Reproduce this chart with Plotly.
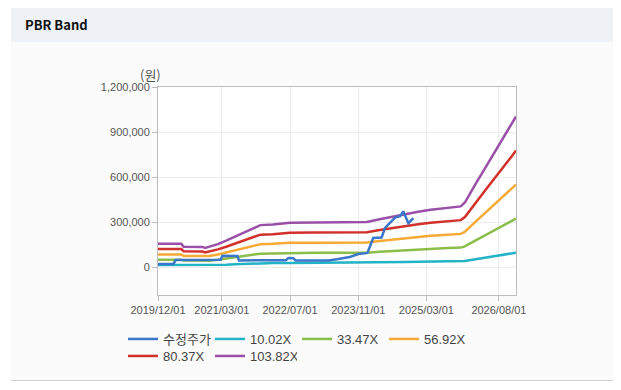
import plotly.graph_objects as go

# ---------------- data ----------------
band_dates = [
    "2019-12-01", "2020-05-15", "2020-06-01", "2020-10-15", "2020-11-01",
    "2020-12-01", "2021-02-01", "2021-04-01", "2021-06-01", "2021-08-01",
    "2021-10-01", "2021-12-01", "2022-03-01", "2022-07-01", "2023-01-01",
    "2023-07-01", "2024-01-01", "2024-04-01", "2024-07-01", "2024-10-01",
    "2025-01-01", "2025-04-01", "2025-07-01", "2025-11-01", "2025-12-01",
    "2026-01-01", "2026-02-01", "2026-03-01", "2026-04-01", "2026-05-01",
    "2026-06-01", "2026-07-01", "2026-08-01", "2026-09-01", "2026-10-01",
    "2026-11-01", "2026-12-01",
]

band_10_02x = [
    15030, 15030, 13226, 13026, 12325, 13026, 14830, 17034, 19539, 22044,
    24549, 27054, 27455, 28557, 28757, 28858, 29058, 30862, 32565, 34268,
    35671, 36874, 37876, 39078, 41583, 46593, 51102, 55611, 60120, 64629,
    69138, 73647, 78156, 82665, 87174, 92184, 96893,
]
band_33_47x = [
    50205, 50205, 44180, 43511, 41168, 43511, 49536, 56899, 65267, 73634,
    82002, 90369, 91708, 95390, 96059, 96394, 97063, 103088, 108778, 114467,
    119153, 123170, 126517, 130533, 138901, 155636, 170697, 185759, 200820, 215882,
    230943, 246005, 261066, 276128, 291189, 307924, 323655,
]
band_56_92x = [
    85380, 85380, 75134, 73996, 70012, 73996, 84242, 96764, 110994, 125224,
    139454, 153684, 155961, 162222, 163360, 163930, 165068, 175314, 184990, 194666,
    202635, 209466, 215158, 221988, 236218, 264678, 290292, 315906, 341520, 367134,
    392748, 418362, 443976, 469590, 495204, 523664, 550416,
]
band_80_37x = [
    120555, 120555, 106088, 104481, 98855, 104481, 118948, 136629, 156722, 176814,
    196907, 216999, 220214, 229055, 230662, 231466, 233073, 247540, 261203, 274865,
    286117, 295762, 303799, 313443, 333536, 373721, 409887, 446054, 482220, 518387,
    554553, 590720, 626886, 663053, 699219, 739404, 777178,
]
band_103_82x = [
    155730, 155730, 137042, 134966, 127699, 134966, 153654, 176494, 202449, 228404,
    254359, 280314, 284467, 295887, 297963, 299002, 301078, 319766, 337415, 355064,
    369599, 382058, 392440, 404898, 430853, 482763, 529482, 576201, 622920, 669639,
    716358, 763077, 809796, 856515, 903234, 955144, 1003939,
]

price_dates = [
    "2019-12-01", "2020-03-20", "2020-04-05", "2020-12-01", "2021-02-20",
    "2021-03-05", "2021-06-20", "2021-07-01", "2022-06-01", "2022-06-20",
    "2022-07-25", "2022-08-10", "2023-04-01", "2023-06-01", "2023-09-01",
    "2023-11-01", "2023-12-20", "2024-01-05", "2024-02-15", "2024-04-15",
    "2024-05-10", "2024-06-15", "2024-07-20", "2024-08-25", "2024-09-17",
    "2024-10-23", "2024-11-28",
]
price_values = [
    22000, 22000, 48000, 46000, 50000,
    76000, 74000, 45000, 47000, 62000,
    60000, 44000, 45000, 53000, 68000,
    88000, 95000, 95000, 195000, 198000,
    262000, 300000, 330000, 340000, 372000,
    293000, 327000,
]

series_names = ["수정주가", "10.02X", "33.47X", "56.92X", "80.37X", "103.82X"]
series_colors = ["#3a76c9", "#22b3c6", "#8bbd4a", "#f7a935", "#d2302a", "#9a50a8"]

x_tick_vals = ["2019-12-01", "2021-03-01", "2022-07-01", "2023-11-01", "2025-03-01", "2026-08-01"]
x_tick_text = ["2019/12/01", "2021/03/01", "2022/07/01", "2023/11/01", "2025/03/01", "2026/08/01"]
y_tick_vals = [0, 300000, 600000, 900000, 1200000]

# ---------------- layout geometry ----------------
# The page body adds an 8px offset, so the figure is drawn 8px smaller and
# all page-pixel positions below are converted with that offset.
OFF = 8
W, H = 621 - OFF, 390 - OFF
PLOT_L, PLOT_R, PLOT_T, PLOT_B = 158, 516, 87, 295  # page pixels
ML = PLOT_L - OFF
MT = PLOT_T - OFF
MR = W - (PLOT_R - OFF)
MB = H - (PLOT_B - OFF)
PW, PH = W - ML - MR, H - MT - MB


def px_x(p):
    return (p - OFF - ML) / PW


def px_y(p):
    return (H - MB - (p - OFF)) / PH


FONT = "Liberation Sans, Arial, Noto Sans CJK KR, sans-serif"

fig = go.Figure()

band_series = [band_10_02x, band_33_47x, band_56_92x, band_80_37x, band_103_82x]

for i, vals in enumerate(band_series):
    fig.add_trace(go.Scatter(
        x=band_dates, y=vals, name=series_names[i + 1], mode="lines",
        line=dict(color=series_colors[i + 1], width=2.5),
        legend="legend" if i < 3 else "legend2", legendrank=i + 2,
    ))
fig.add_trace(go.Scatter(
    x=price_dates, y=price_values, name=series_names[0], mode="lines",
    line=dict(color=series_colors[0], width=2.5), legend="legend", legendrank=1,
))

shapes = [
    dict(type="rect", xref="paper", yref="paper", x0=px_x(11), x1=px_x(640),
         y0=px_y(380), y1=px_y(42), fillcolor="#fbfbfb", line=dict(width=0), layer="below"),
    dict(type="rect", xref="paper", yref="paper", x0=px_x(11), x1=px_x(640),
         y0=px_y(42), y1=px_y(6.5), fillcolor="#eef2f7", line=dict(width=0), layer="below"),
    dict(type="line", xref="paper", yref="paper", x0=px_x(11), x1=px_x(640),
         y0=px_y(6.5), y1=px_y(6.5), line=dict(color="#d3d3d3", width=1), layer="below"),
    dict(type="line", xref="paper", yref="paper", x0=px_x(11), x1=px_x(640),
         y0=px_y(380.5), y1=px_y(380.5), line=dict(color="#cfcfcf", width=1), layer="below"),
    dict(type="rect", xref="paper", yref="paper", x0=0, x1=1, y0=0, y1=1,
         fillcolor="#ffffff", line=dict(width=0), layer="below"),
]

annotations = [
    dict(text="<b>PBR Band</b>", xref="paper", yref="paper", x=px_x(23), y=px_y(24.5),
         xanchor="left", yanchor="middle", showarrow=False,
         font=dict(family="Noto Sans CJK KR, Noto Sans, sans-serif", size=13, color="#111111")),
    dict(text="(원)", xref="paper", yref="paper", x=px_x(150), y=px_y(74),
         xanchor="center", yanchor="middle", showarrow=False,
         font=dict(family="Noto Sans CJK KR, sans-serif", size=13, color="#555555")),
]

legend_common = dict(
    orientation="h", xanchor="left", yanchor="middle",
    bgcolor="rgba(0,0,0,0)", borderwidth=0,
    font=dict(family=FONT, size=13, color="#444444"),
    entrywidth=42, entrywidthmode="pixels", tracegroupgap=0,
)

fig.update_layout(
    width=W, height=H,
    margin=dict(l=ML, r=MR, t=MT, b=MB, pad=0),
    paper_bgcolor="#ffffff", plot_bgcolor="#ffffff",
    font=dict(family=FONT, size=11, color="#555555"),
    shapes=shapes, annotations=annotations,
    showlegend=True,
    legend=dict(x=px_x(123), y=px_y(339), traceorder="normal", **legend_common),
    legend2=dict(x=px_x(123), y=px_y(356), traceorder="normal", **legend_common),
    xaxis=dict(
        type="date", range=["2019-12-01", "2026-12-01"],
        tickvals=x_tick_vals, ticktext=x_tick_text,
        showgrid=True, gridcolor="#ebebeb", gridwidth=1,
        showline=True, linecolor="#bdbdbd", linewidth=1, mirror=True,
        ticks="outside", ticklen=5, tickcolor="#bdbdbd",
        tickfont=dict(family=FONT, size=11, color="#555555"),
        zeroline=False, fixedrange=True,
    ),
    yaxis=dict(
        range=[-185000, 1200000], tickvals=y_tick_vals, tickformat=",",
        showgrid=True, gridcolor="#ebebeb", gridwidth=1,
        showline=True, linecolor="#bdbdbd", linewidth=1, mirror=True,
        ticks="outside", ticklen=5, tickcolor="#bdbdbd",
        tickfont=dict(family=FONT, size=11, color="#555555"),
        zeroline=False, fixedrange=True,
    ),
)

fig.write_html("out.html")
